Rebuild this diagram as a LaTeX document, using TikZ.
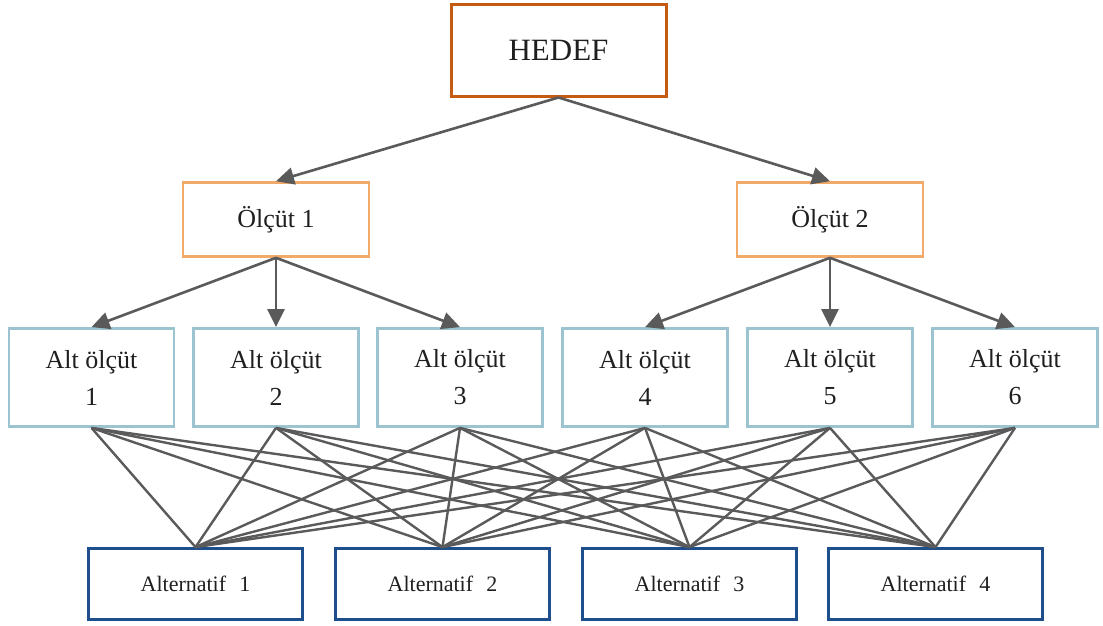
\documentclass[tikz,border=0pt]{standalone}
\usepackage{fontspec}
\setmainfont{Liberation Serif}
\usetikzlibrary{arrows.meta}
\definecolor{goalc}{HTML}{C55A11}
\definecolor{critc}{HTML}{F2AA6A}
\definecolor{subc}{HTML}{9CC4D0}
\definecolor{altc}{HTML}{1F4E8C}
\definecolor{linec}{HTML}{5A5A5A}
\begin{document}
\begin{tikzpicture}[x=1pt,y=-1pt,
  box/.style={draw,fill=white,inner sep=0pt,align=center,text=black!88},
  goalbox/.style={box,draw=goalc,line width=3pt,minimum width=215pt,minimum height=92pt,font=\fontsize{31}{34}\selectfont},
  critbox/.style={box,draw=critc,line width=2.6pt,minimum width=186pt,minimum height=74pt,font=\fontsize{26}{30}\selectfont},
  subbox/.style={box,draw=subc,line width=2.8pt,minimum width=165pt,minimum height=98pt,font=\fontsize{26}{37}\selectfont},
  altbox/.style={box,draw=altc,line width=2.8pt,minimum width=214pt,minimum height=71pt,font=\fontsize{22}{24}\selectfont},
  arr/.style={draw=linec,line width=2.6pt,-{Triangle[length=18pt,width=17pt]}},
  link/.style={draw=linec,line width=2.4pt}]
\useasboundingbox (0,0) rectangle (1103,625);
\node[goalbox] (g) at (558.5,50) {HEDEF};
\node[critbox] (c1) at (276,219.5) {Ölçüt 1};
\node[critbox] (c2) at (830,219.5) {Ölçüt 2};
\node[subbox] (s1) at (91.5,377.5) {Alt ölçüt\\1};
\node[subbox] (s2) at (276,377.5) {Alt ölçüt\\2};
\node[subbox] (s3) at (460,377.5) {Alt ölçüt\\3};
\node[subbox] (s4) at (645,377.5) {Alt ölçüt\\4};
\node[subbox] (s5) at (830,377.5) {Alt ölçüt\\5};
\node[subbox] (s6) at (1015,377.5) {Alt ölçüt\\6};
\node[altbox] (a1) at (195.5,584) {Alternatif\hspace{0.6em}1};
\node[altbox] (a2) at (442.5,584) {Alternatif\hspace{0.6em}2};
\node[altbox] (a3) at (689.5,584) {Alternatif\hspace{0.6em}3};
\node[altbox] (a4) at (935.5,584) {Alternatif\hspace{0.6em}4};
\foreach \s in {s1,s2,s3,s4,s5,s6}{
  \foreach \a in {a1,a2,a3,a4}{
    \path[link] (\s.south) -- (\a.north);
  }
}
\path[arr] (g.south) -- (c1.north);
\path[arr] (g.south) -- (c2.north);
\path[arr] (c1.south) -- (s1.north);
\path[arr] (c1.south) -- (s2.north);
\path[arr] (c1.south) -- (s3.north);
\path[arr] (c2.south) -- (s4.north);
\path[arr] (c2.south) -- (s5.north);
\path[arr] (c2.south) -- (s6.north);
\end{tikzpicture}
\end{document}
